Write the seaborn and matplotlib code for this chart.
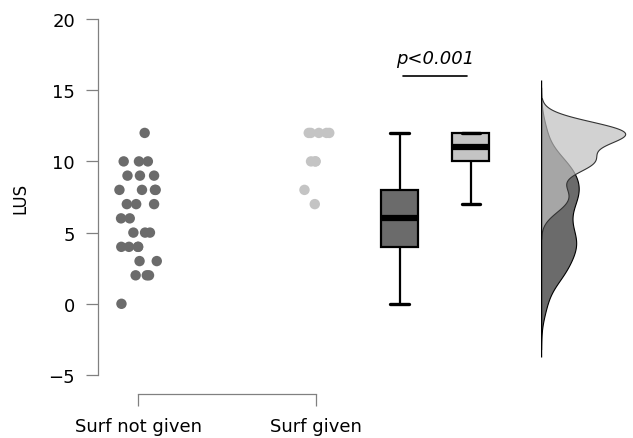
import numpy as np
import pandas as pd
import seaborn as sns
import matplotlib.pyplot as plt

# values
groups = ["Surf not given", "Surf given"]
lus_not_given = [0, 2, 2, 2, 3, 3, 4, 4, 4, 4, 5, 5, 5, 6, 6, 7, 7, 7,
                 8, 8, 8, 8, 9, 9, 9, 10, 10, 10, 12]
lus_given = [7, 8, 10, 10, 10, 12, 12, 12, 12, 12]
y_ticks = [-5, 0, 5, 10, 15, 20]
p_label = "p<0.001"

dark = "#6b6b6b"
light = "#c4c4c4"
kde_light = "#c0c0c0"
box_pos = [1.47, 1.87]

df = pd.DataFrame({
    "group": [groups[0]] * len(lus_not_given) + [groups[1]] * len(lus_given),
    "LUS": lus_not_given + lus_given,
})
df["strip_x"] = df["group"].map({g: i for i, g in enumerate(groups)})
df["box_x"] = df["group"].map(dict(zip(groups, box_pos)))

sns.set_style("ticks")
plt.rcParams["font.family"] = ["DejaVu Sans"]
plt.rcParams["text.color"] = "black"
plt.rcParams["axes.labelcolor"] = "black"
plt.rcParams["xtick.labelcolor"] = "black"
plt.rcParams["ytick.labelcolor"] = "black"
np.random.seed(7)

fig = plt.figure(figsize=(6.33, 4.39), dpi=100)
ax = fig.add_axes([98 / 633, 63 / 439, 527 / 633, 356 / 439])

# 1. raw points
sns.stripplot(data=df, x="strip_x", y="LUS", hue="group", hue_order=groups,
              palette=[dark, light], native_scale=True, jitter=0.11,
              size=7.5, linewidth=0, legend=False, ax=ax)

# 2. box plots
sns.boxplot(data=df, x="box_x", y="LUS", hue="group", hue_order=groups,
            palette=[dark, light], saturation=1, native_scale=True,
            width=0.52, linecolor="black", linewidth=1.6, showfliers=False,
            legend=False, ax=ax,
            medianprops=dict(linewidth=4.5),
            capprops=dict(linewidth=2.4))

# significance bar
sig_y = max(df["LUS"]) + 4
ax.plot([box_pos[0] + 0.02, box_pos[1] - 0.02], [sig_y, sig_y],
        color="black", lw=1.2)
ax.text(np.mean(box_pos), sig_y + 0.6, p_label, style="italic",
        ha="center", va="bottom", fontsize=13, color="black")

# 3. half densities
ax_kde = fig.add_axes([541 / 633, 63 / 439, 85 / 633, 356 / 439], sharey=ax)
sns.kdeplot(y=lus_not_given, fill=True, color=dark, alpha=1, bw_adjust=0.7,
            linewidth=0.8, edgecolor="black", ax=ax_kde)
sns.kdeplot(y=lus_given, fill=True, color=kde_light, alpha=0.7, bw_adjust=0.7,
            linewidth=0.8, edgecolor="#333333", ax=ax_kde)
verts = np.vstack([c.get_paths()[0].vertices for c in ax_kde.collections])
ax_kde.vlines(0, verts[:, 1].min() - 0.5, verts[:, 1].max() + 0.5,
              color="black", lw=1)
ax_kde.set_xlim(0, verts[:, 0].max() * 1.01)
ax_kde.axis("off")

# axes styling
ax.set_xlim(-0.225, 2.736)
ax.set_ylim(-5, 20)
ax.set_xticks([0, 1], groups)
ax.set_yticks(y_ticks)
ax.set_xlabel("")
ax.set_ylabel("LUS", fontsize=12, labelpad=14)
sns.despine(ax=ax)
ax.spines["left"].set_bounds(-5, 20)
ax.spines["bottom"].set_bounds(0, 1)
ax.spines["bottom"].set_position(("outward", 13.7))
for s in ["left", "bottom"]:
    ax.spines[s].set_color("#808080")
    ax.spines[s].set_linewidth(0.9)
ax.tick_params(axis="both", length=8.5, width=0.9, color="#808080",
               labelsize=13, pad=8)

fig.savefig("out.png", dpi=100)
